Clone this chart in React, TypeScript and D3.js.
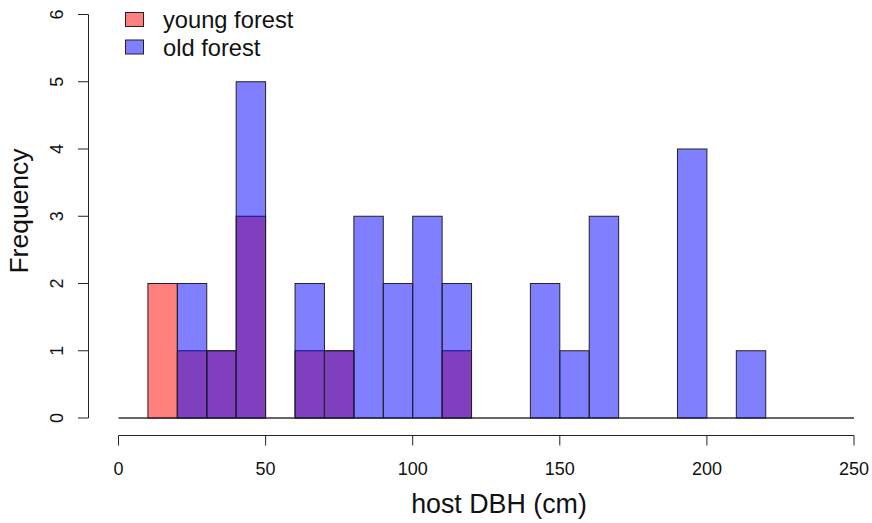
import React from "react";
import * as d3 from "d3";

const breaks = d3.range(0, 251, 10);
const youngCounts = [0, 2, 1, 1, 3, 0, 1, 1, 0, 0, 0, 1, 0, 0, 0, 0, 0, 0, 0, 0, 0, 0, 0, 0, 0];
const oldCounts = [0, 0, 2, 1, 5, 0, 2, 1, 3, 2, 3, 2, 0, 0, 2, 1, 3, 0, 0, 4, 0, 1, 0, 0, 0];
const xTicks = [0, 50, 100, 150, 200, 250];
const yTicks = [0, 1, 2, 3, 4, 5, 6];
const seriesNames = ["young forest", "old forest"];
const seriesColors = ["rgba(255,0,0,0.5)", "rgba(0,0,255,0.5)"];

const W = 872;
const H = 523;
const FONT = "'Liberation Sans', Arial, sans-serif";

export default function App() {
  const x = d3.scaleLinear().domain([0, 250]).range([118.5, 854]);
  const y = d3.scaleLinear().domain([0, 6]).range([418, 14.5]);

  const series = [youngCounts, oldCounts];

  return (
    <svg
      width={W}
      height={H}
      style={{ position: "absolute", left: 0, top: 0, background: "#fff" }}
      fontFamily={FONT}
    >
      {/* zero-height bins baseline */}
      <line
        x1={x(breaks[0])}
        x2={x(breaks[breaks.length - 1])}
        y1={y(0)}
        y2={y(0)}
        stroke="#666"
        strokeWidth={1.8}
      />
      {series.map((counts, si) => (
        <g key={si}>
          {counts.map((c, i) => {
            if (c === 0) return null;
            const x0 = x(breaks[i]);
            const x1 = x(breaks[i + 1]);
            const y0 = y(c);
            return (
              <rect
                key={i}
                x={x0}
                y={y0}
                width={x1 - x0}
                height={y(0) - y0}
                fill={seriesColors[si]}
                stroke="#222"
                strokeWidth={1}
              />
            );
          })}
        </g>
      ))}

      {/* y axis */}
      <line x1={88.5} x2={88.5} y1={y(6)} y2={y(0)} stroke="#222" />
      {yTicks.map((t) => (
        <g key={t}>
          <line x1={78} x2={88.5} y1={y(t)} y2={y(t)} stroke="#222" />
          <text
            transform={`translate(63,${y(t)}) rotate(-90)`}
            textAnchor="middle"
            fontSize={18}
            fill="#111"
          >
            {t}
          </text>
        </g>
      ))}

      {/* x axis */}
      <line x1={x(0)} x2={x(250)} y1={435.5} y2={435.5} stroke="#222" />
      {xTicks.map((t) => (
        <g key={t}>
          <line x1={x(t)} x2={x(t)} y1={435.5} y2={445.5} stroke="#222" />
          <text x={x(t)} y={475} textAnchor="middle" fontSize={18} fill="#111">
            {t}
          </text>
        </g>
      ))}

      {/* axis titles */}
      <text x={499} y={513} textAnchor="middle" fontSize={26.8} fill="#111">
        host DBH (cm)
      </text>
      <text
        transform={`translate(28,211) rotate(-90)`}
        textAnchor="middle"
        fontSize={26.5}
        fill="#111"
      >
        Frequency
      </text>

      {/* legend */}
      {seriesNames.map((n, i) => (
        <g key={n}>
          <rect
            x={125.5}
            y={12.5 + i * 27.5}
            width={18}
            height={14}
            fill={seriesColors[i]}
            stroke="#222"
          />
          <text x={163} y={28 + i * 27.5} fontSize={23.7} fill="#111">
            {n}
          </text>
        </g>
      ))}
    </svg>
  );
}
